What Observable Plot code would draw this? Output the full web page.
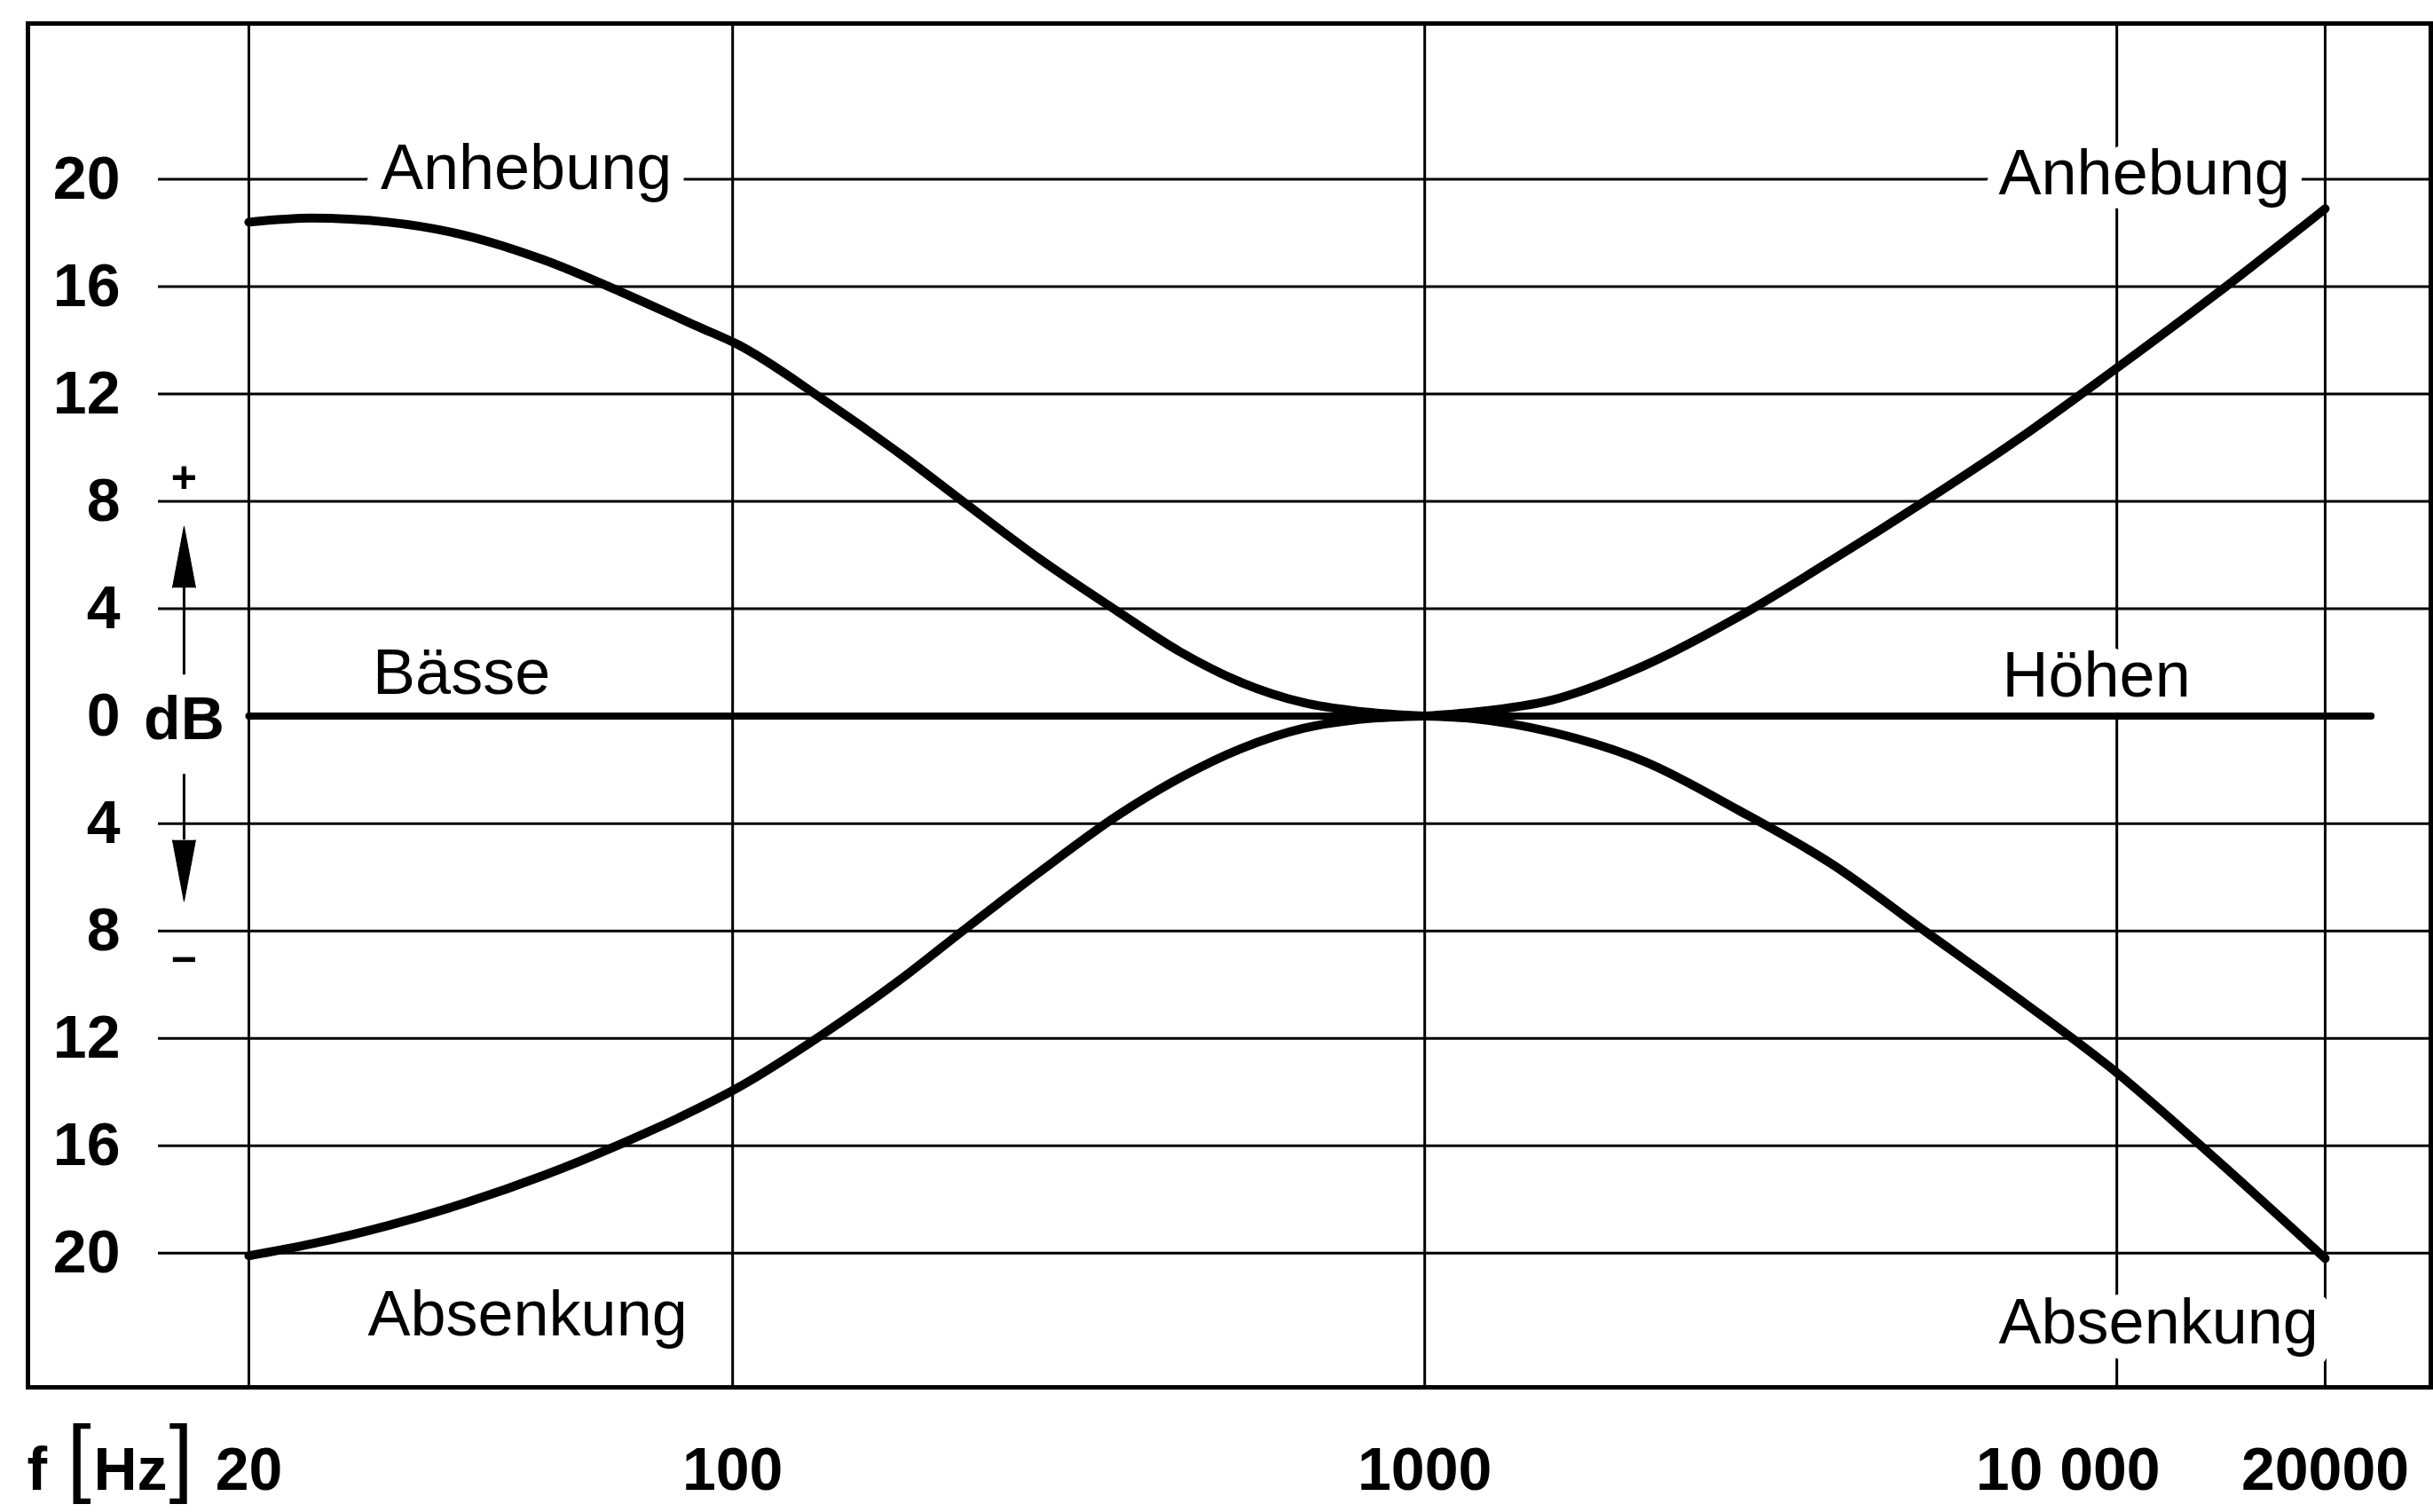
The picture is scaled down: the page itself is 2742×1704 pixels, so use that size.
<!DOCTYPE html>
<html>
<head>
<meta charset="utf-8">
<script src="https://cdn.jsdelivr.net/npm/d3@7"></script>
<script src="https://cdn.jsdelivr.net/npm/@observablehq/plot@0.6"></script>
<style>
  html, body { margin: 0; padding: 0; background: #fff; }
  #chart svg { display: block; }
</style>
</head>
<body>
<div id="chart"></div>
<script>
// ---- data ----
const bassBoostF  = [20, 24.6, 31.8, 41.2, 53.3, 69, 89.3, 101.6, 135, 175, 215, 278, 360, 443, 544, 669, 822, 1000];
const bassBoostDb = [18.4, 18.55, 18.4, 17.9, 17.0, 15.8, 14.5, 13.85, 11.8, 9.75, 8.0, 5.85, 3.9, 2.4, 1.25, 0.5, 0.15, 0];

const bassCutF  = [20, 24.6, 31.8, 41.2, 53.3, 69, 89.3, 101.6, 135, 175, 215, 278, 360, 443, 544, 669, 822, 1000];
const bassCutDb = [-20.1, -19.66, -18.97, -18.12, -17.11, -15.93, -14.6, -13.85, -11.85, -9.8, -8.0, -5.8, -3.7, -2.3, -1.2, -0.45, -0.1, 0];

const trebleBoostF  = [1000, 1180, 1528, 2083, 2839, 3870, 5276, 7191, 9800, 14040, 20000];
const trebleBoostDb = [0, 0.15, 0.6, 1.9, 3.7, 5.8, 8.0, 10.3, 12.8, 15.8, 18.9];

const trebleCutF  = [1000, 1180, 1528, 2083, 2839, 3870, 5276, 7191, 9800, 14040, 20000];
const trebleCutDb = [0, -0.1, -0.6, -1.7, -3.5, -5.5, -8.0, -10.5, -13.1, -16.6, -20.2];

const flatF  = [20, 23300];
const flatDb = [0, 0];

const xTicks      = [20, 100, 1000, 10000, 20000];
const xTickLabels = ["20", "100", "1000", "10 000", "20000"];
const yTicks      = [20, 16, 12, 8, 4, 0, -4, -8, -12, -16, -20];
const yGrid       = [20, 16, 12, 8, 4, -4, -8, -12, -16, -20];

const labelText = ["Anhebung", "Anhebung", "Bässe", "Höhen", "Absenkung", "Absenkung"];
const labelF    = [31, 6750, 30.2, 6830, 29.7, 6750];
const labelDb   = [20.4, 20.2, 1.6, 1.5, -22.3, -22.6];

// y-axis direction marks (position in data units)
const signF = 16.12;
const arrowShafts = [{from: 1.55, to: 4.8}, {from: -2.15, to: -4.6}];
const arrowTips   = [{db: 7.07, rot: 0}, {db: -6.9, rot: 180}];
const signs       = [{db: 8.86, t: "+"}, {db: -9.1, t: "−"}];

// ---- build tables ----
const curves = [
  ...bassBoostF.map((f, i) => ({f, db: bassBoostDb[i], s: "bassBoost"})),
  ...bassCutF.map((f, i) => ({f, db: bassCutDb[i], s: "bassCut"})),
  ...trebleBoostF.map((f, i) => ({f, db: trebleBoostDb[i], s: "trebleBoost"})),
  ...trebleCutF.map((f, i) => ({f, db: trebleCutDb[i], s: "trebleCut"}))
];
const flat = flatF.map((f, i) => ({f, db: flatDb[i]}));
const labels = labelText.map((t, i) => ({t, f: labelF[i], db: labelDb[i]}));
const xLab = xTicks.map((f, i) => ({f, t: xTickLabels[i]}));

const font = "'Liberation Sans', Arial, sans-serif";
const xMin = 9.59, xMax = 28420;

const unitText = (t, dx, dy, fontSize, fontWeight) => Plot.text([t], {
  text: d => d, frameAnchor: "bottom-left", textAnchor: "start",
  lineAnchor: "top", dx, dy, fontSize, fontWeight, fill: "#000"
});

const chart = Plot.plot({
  width: 2742,
  height: 1704,
  marginLeft: 31,
  marginRight: 3,
  marginTop: 26,
  marginBottom: 141,
  style: {background: "#fff", color: "#000", fontFamily: font},
  x: {type: "log", domain: [xMin, xMax], axis: null},
  y: {domain: [-25.0, 25.8], axis: null},
  marks: [
    // grid
    Plot.ruleY(yGrid, {y: d => d, x1: 14.8, x2: xMax, stroke: "#000", strokeWidth: 3}),
    Plot.ruleX(xTicks, {x: d => d, stroke: "#000", strokeWidth: 3}),
    // curve labels with white halo (interrupts the grid like the original)
    Plot.text(labels, {
      x: "f", y: "db", text: "t", textAnchor: "start", lineAnchor: "middle",
      fontSize: 72, fill: "#000", stroke: "#fff", strokeWidth: 36, paintOrder: "stroke"
    }),
    // y tick labels
    Plot.text(yTicks, {
      y: d => d, text: d => String(Math.abs(d)), frameAnchor: "left",
      textAnchor: "end", lineAnchor: "middle", dx: 104,
      fontSize: 68, fontWeight: "bold", fill: "#000"
    }),
    Plot.text(["dB"], {
      x: signF, y: -0.13, text: d => d, textAnchor: "middle", lineAnchor: "middle",
      fontSize: 68, fontWeight: "bold", fill: "#000"
    }),
    Plot.text(signs, {
      x: signF, y: "db", text: "t", textAnchor: "middle", lineAnchor: "middle",
      fontSize: 50, fontWeight: "bold", fill: "#000"
    }),
    Plot.link(arrowShafts, {x1: signF, x2: signF, y1: "from", y2: "to", stroke: "#000", strokeWidth: 3}),
    Plot.vector(arrowTips, {
      x: signF, y: "db", rotate: "rot", shape: "spike", anchor: "end",
      length: 69, r: 13, fill: "#000", stroke: "#000", strokeWidth: 1
    }),
    // response curves
    Plot.line(curves, {
      x: "f", y: "db", z: "s", curve: "monotone-x",
      stroke: "#000", strokeWidth: 10, strokeLinecap: "round", strokeLinejoin: "round"
    }),
    Plot.line(flat, {x: "f", y: "db", stroke: "#000", strokeWidth: 8}),
    // frame
    Plot.frame({stroke: "#000", strokeWidth: 5}),
    // x labels
    Plot.text(xLab.filter(d => d.f !== 10000), {
      x: "f", text: "t", frameAnchor: "bottom",
      lineAnchor: "top", dy: 67, fontSize: 68, fontWeight: "bold", fill: "#000"
    }),
    Plot.text(xLab.filter(d => d.f === 10000), {
      x: "f", text: "t", frameAnchor: "bottom", dx: -55,
      lineAnchor: "top", dy: 67, fontSize: 68, fontWeight: "bold", fill: "#000"
    }),
    unitText("f", -1, 67, 68, "bold"),
    unitText("[", 44, 42, 98, "normal"),
    unitText("Hz", 74, 67, 68, "bold"),
    unitText("]", 159, 42, 98, "normal")
  ]
});

document.getElementById("chart").appendChild(chart);
</script>
</body>
</html>
